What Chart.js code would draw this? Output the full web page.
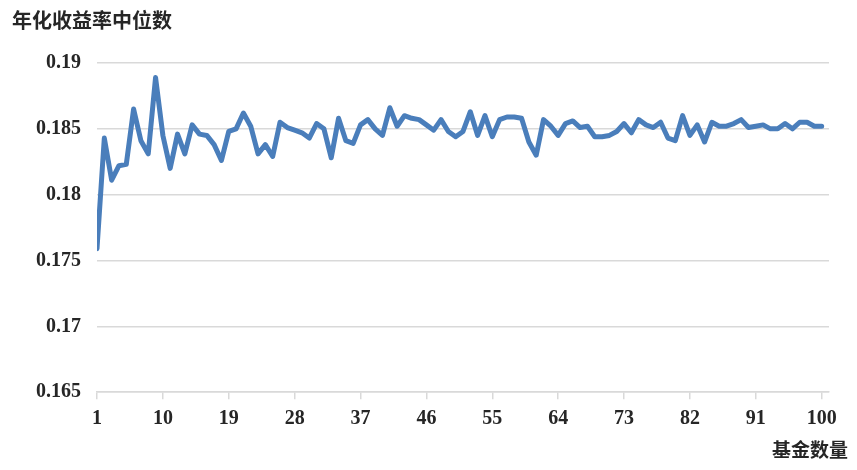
<!DOCTYPE html>
<html>
<head>
<meta charset="utf-8">
<script src="https://cdn.jsdelivr.net/npm/chart.js@4/dist/chart.umd.min.js"></script>
<style>
  html, body { margin: 0; padding: 0; background: #fff; }
  #wrap { width: 857px; height: 470px; }
</style>
</head>
<body>
<div id="wrap"><canvas id="line-chart"></canvas></div>
<script>
const fundCounts = [
  1, 2, 3, 4, 5, 6, 7, 8, 9, 10, 11, 12, 13, 14, 15, 16, 17, 18, 19, 20,
  21, 22, 23, 24, 25, 26, 27, 28, 29, 30, 31, 32, 33, 34, 35, 36, 37, 38, 39, 40,
  41, 42, 43, 44, 45, 46, 47, 48, 49, 50, 51, 52, 53, 54, 55, 56, 57, 58, 59, 60,
  61, 62, 63, 64, 65, 66, 67, 68, 69, 70, 71, 72, 73, 74, 75, 76, 77, 78, 79, 80,
  81, 82, 83, 84, 85, 86, 87, 88, 89, 90, 91, 92, 93, 94, 95, 96, 97, 98, 99, 100,
];

const medianReturn = [
  0.1759, 0.1843, 0.1811, 0.1822, 0.1823, 0.1865, 0.1841, 0.1831, 0.1889, 0.1845,
  0.1820, 0.1846, 0.1831, 0.1853, 0.1846, 0.1845, 0.1838, 0.1826, 0.1848, 0.1850,
  0.1862, 0.1852, 0.1831, 0.1838, 0.1829, 0.1855, 0.1851, 0.1849, 0.1847, 0.1843,
  0.1854, 0.1850, 0.1828, 0.1858, 0.1841, 0.1839, 0.1853, 0.1857, 0.1850, 0.1845,
  0.1866, 0.1852, 0.1860, 0.1858, 0.1857, 0.1853, 0.1849, 0.1857, 0.1848, 0.1844,
  0.1848, 0.1863, 0.1845, 0.1860, 0.1844, 0.1857, 0.1859, 0.1859, 0.1858, 0.1840,
  0.1830, 0.1857, 0.1852, 0.1845, 0.1854, 0.1856, 0.1851, 0.1852, 0.1844, 0.1844,
  0.1845, 0.1848, 0.1854, 0.1847, 0.1857, 0.1853, 0.1851, 0.1855, 0.1843, 0.1841,
  0.1860, 0.1845, 0.1853, 0.1840, 0.1855, 0.1852, 0.1852, 0.1854, 0.1857, 0.1851,
  0.1852, 0.1853, 0.1850, 0.1850, 0.1854, 0.1850, 0.1855, 0.1855, 0.1852, 0.1852,
];

const xTickLabels = [1, 10, 19, 28, 37, 46, 55, 64, 73, 82, 91, 100];
const yTickLabels = [0.165, 0.17, 0.175, 0.18, 0.185, 0.19];

const FONT_X = '"Times New Roman"';
const FONT_Y = 'serif';
const FONT_CJK = '"Noto Sans CJK SC"';
const TEXT = '#262626';
const GRID = '#d9d9d9';

new Chart(document.getElementById('line-chart'), {
  type: 'line',
  data: {
    datasets: [
      {
        data: fundCounts.map((n, i) => ({ x: n, y: medianReturn[i] })),
        borderColor: '#4a7ebb',
        borderWidth: 5,
        pointRadius: 0,
        tension: 0,
        fill: false,
        borderJoinStyle: 'round',
        borderCapStyle: 'round',
      },
    ],
  },
  options: {
    responsive: true,
    maintainAspectRatio: false,
    animation: false,
    layout: { padding: { left: 12, right: 9, top: 0, bottom: 0 } },
    plugins: {
      legend: { display: false },
      tooltip: { enabled: false },
      title: {
        display: true,
        text: '年化收益率中位数',
        align: 'start',
        color: TEXT,
        font: { family: FONT_CJK, size: 20, weight: 'bold' },
        padding: { top: 8, bottom: 31 },
      },
      subtitle: {
        display: true,
        position: 'bottom',
        text: '基金数量',
        align: 'end',
        color: TEXT,
        font: { family: FONT_CJK, size: 19, weight: 'bold' },
        padding: { top: 7, bottom: 9 },
      },
    },
    scales: {
      x: {
        type: 'linear',
        min: 1,
        max: 101,
        afterBuildTicks: (axis) => {
          axis.ticks = xTickLabels.map((v) => ({ value: v }));
        },
        afterFit: (axis) => {
          axis.height = 39;
        },
        grid: {
          drawOnChartArea: false,
          drawTicks: true,
          tickLength: 7,
          color: GRID,
          lineWidth: 1.5,
        },
        border: { display: true, color: GRID, width: 1.5 },
        ticks: {
          padding: 8,
          maxRotation: 0,
          autoSkip: false,
          color: TEXT,
          font: { family: FONT_X, size: 20, weight: 'bold' },
        },
      },
      y: {
        min: 0.165,
        max: 0.19,
        afterBuildTicks: (axis) => {
          axis.ticks = yTickLabels.map((v) => ({ value: v }));
        },
        afterFit: (axis) => {
          axis.width = 85;
        },
        grid: { drawTicks: false, color: GRID, lineWidth: 1.5 },
        border: { display: false },
        ticks: {
          padding: 16,
          color: TEXT,
          font: { family: FONT_Y, size: 20, weight: 'bold' },
          callback: (v) => String(parseFloat(v.toFixed(3))),
        },
      },
      // empty right-hand axis, only to keep the plot clear of the right edge
      spacer: {
        type: 'linear',
        position: 'right',
        display: true,
        grid: { display: false },
        border: { display: false },
        ticks: { display: false },
        afterFit: (axis) => {
          axis.width = 19;
        },
      },
    },
  },
});
</script>
</body>
</html>
